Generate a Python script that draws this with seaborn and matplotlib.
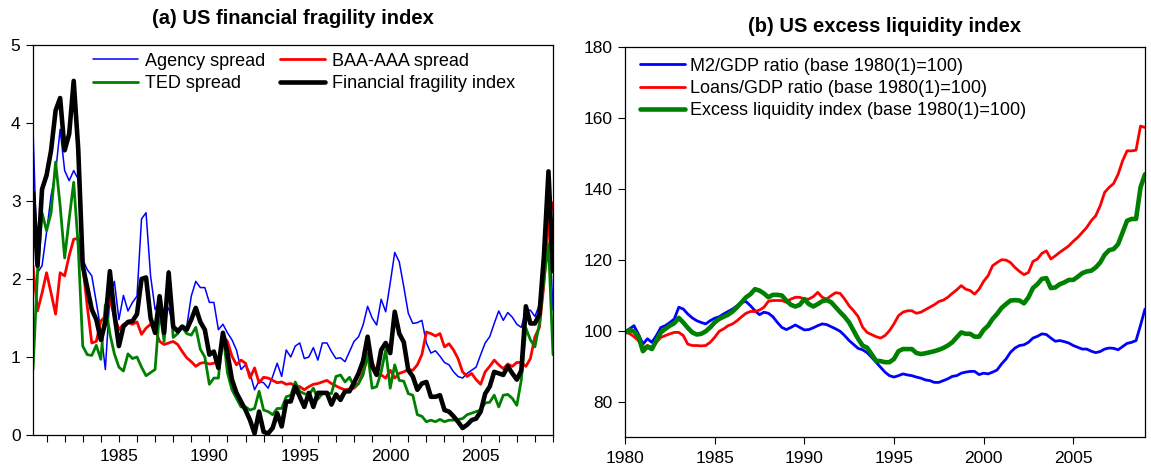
import numpy as np
import pandas as pd
import matplotlib
matplotlib.use("Agg")
import matplotlib.pyplot as plt
from matplotlib.ticker import FixedLocator
import seaborn as sns

# ---------------- data (quarterly) ----------------
# Panel (a): 1980Q2 .. 2009Q1
left_start_year, left_start_q = 1980, 2
agency_spread = [3.93, 2.08, 2.17, 2.60, 3.07, 3.37, 3.92, 3.39, 3.26, 3.39, 3.28, 2.25, 2.12, 2.04, 1.70, 1.35,
                 0.84, 1.78, 1.97, 1.48, 1.79, 1.59, 1.70, 1.78, 2.77, 2.85, 2.04, 1.61, 1.70, 1.52, 1.63, 1.39,
                 1.35, 1.37, 1.39, 1.78, 1.97, 1.89, 1.89, 1.70, 1.70, 1.35, 1.42, 1.31, 1.22, 1.09, 0.84, 0.90,
                 0.79, 0.58, 0.69, 0.67, 0.60, 0.75, 0.92, 0.75, 1.09, 1.00, 1.14, 1.18, 0.98, 1.00, 1.12, 0.96,
                 1.18, 1.18, 1.07, 0.98, 0.99, 0.94, 1.07, 1.20, 1.26, 1.41, 1.65, 1.50, 1.41, 1.74, 1.58, 1.95,
                 2.34, 2.22, 1.90, 1.56, 1.43, 1.44, 1.47, 1.18, 1.05, 1.08, 1.01, 0.93, 0.90, 0.81, 0.75, 0.73,
                 0.79, 0.83, 0.87, 1.03, 1.18, 1.26, 1.43, 1.59, 1.47, 1.57, 1.51, 1.42, 1.38, 1.60, 1.60, 1.52,
                 1.67, 2.00, 2.90, 1.60]
baa_aaa_spread = [2.17, 1.59, 1.82, 2.08, 1.82, 1.55, 2.08, 2.04, 2.30, 2.51, 2.52, 2.17, 1.65, 1.18, 1.20, 1.46,
                  1.52, 1.74, 1.52, 1.35, 1.42, 1.44, 1.42, 1.45, 1.29, 1.37, 1.42, 1.35, 1.20, 1.16, 1.18, 1.20,
                  1.16, 1.07, 0.99, 0.94, 0.88, 0.92, 0.93, 0.91, 0.92, 0.94, 1.27, 1.20, 1.01, 0.90, 0.96, 0.92,
                  0.73, 0.86, 0.67, 0.74, 0.73, 0.70, 0.67, 0.68, 0.65, 0.66, 0.63, 0.62, 0.58, 0.62, 0.65, 0.66,
                  0.68, 0.70, 0.66, 0.63, 0.60, 0.58, 0.59, 0.60, 0.66, 0.81, 0.98, 0.94, 0.79, 0.77, 0.73, 0.83,
                  0.73, 0.79, 0.81, 0.84, 0.83, 0.90, 1.03, 1.32, 1.30, 1.27, 1.30, 1.13, 1.17, 1.09, 0.98, 0.81,
                  0.75, 0.79, 0.71, 0.65, 0.81, 0.88, 0.96, 0.90, 0.85, 0.91, 0.88, 0.93, 0.93, 0.88, 0.98, 1.26,
                  1.38, 1.94, 2.70, 2.98]
ted_spread = [0.84, 2.08, 2.85, 2.62, 2.85, 3.50, 2.94, 2.27, 2.77, 3.24, 2.42, 1.14, 1.03, 1.02, 1.15, 0.97,
              1.67, 1.30, 1.04, 0.87, 0.82, 1.04, 0.98, 1.00, 0.87, 0.76, 0.80, 0.84, 1.60, 1.20, 2.10, 1.25,
              1.30, 1.38, 1.30, 1.28, 1.38, 1.10, 1.00, 0.65, 0.73, 0.73, 1.31, 0.80, 0.58, 0.47, 0.36, 0.36,
              0.32, 0.34, 0.56, 0.32, 0.30, 0.26, 0.34, 0.34, 0.49, 0.51, 0.68, 0.56, 0.53, 0.51, 0.60, 0.46,
              0.53, 0.54, 0.53, 0.75, 0.77, 0.68, 0.74, 0.62, 0.66, 0.77, 1.05, 0.60, 0.62, 0.81, 1.09, 0.60,
              0.90, 0.70, 0.69, 0.53, 0.51, 0.26, 0.24, 0.17, 0.19, 0.17, 0.20, 0.17, 0.19, 0.19, 0.20, 0.21,
              0.26, 0.28, 0.30, 0.32, 0.41, 0.42, 0.51, 0.36, 0.51, 0.52, 0.47, 0.38, 0.71, 1.37, 1.22, 1.13,
              1.43, 2.00, 2.45, 1.03]
fragility_index = [3.11, 2.17, 3.15, 3.33, 3.65, 4.16, 4.32, 3.65, 3.86, 4.54, 3.67, 2.17, 1.89, 1.61, 1.48, 1.22,
                   1.44, 2.10, 1.55, 1.14, 1.39, 1.45, 1.46, 1.55, 2.00, 2.02, 1.50, 1.31, 1.78, 1.31, 2.08, 1.39,
                   1.33, 1.39, 1.35, 1.48, 1.63, 1.45, 1.35, 1.03, 1.07, 0.86, 1.31, 1.05, 0.71, 0.54, 0.43, 0.32,
                   0.19, 0.02, 0.30, 0.04, 0.02, 0.09, 0.28, 0.11, 0.43, 0.43, 0.62, 0.49, 0.36, 0.54, 0.36, 0.54,
                   0.54, 0.54, 0.39, 0.52, 0.45, 0.56, 0.56, 0.67, 0.79, 0.95, 1.26, 0.88, 0.77, 1.09, 1.18, 1.05,
                   1.58, 1.30, 1.19, 0.83, 0.75, 0.58, 0.66, 0.68, 0.49, 0.49, 0.51, 0.32, 0.30, 0.24, 0.17, 0.09,
                   0.13, 0.19, 0.21, 0.30, 0.53, 0.62, 0.81, 0.79, 0.77, 0.88, 0.79, 0.71, 0.83, 1.65, 1.43, 1.43,
                   1.55, 2.30, 3.38, 2.10]

# Panel (b): 1980Q1 .. 2009Q1
right_start_year, right_start_q = 1980, 1
m2_gdp = [99.5, 100.5, 101.4, 99.0, 96.2, 97.7, 96.7, 98.6, 100.9, 101.4, 102.3, 103.3, 106.6, 106.1, 104.7, 103.6,
          102.8, 102.3, 101.9, 102.8, 103.5, 103.9, 104.7, 105.4, 106.1, 107.0, 108.0, 108.2, 107.0, 105.6, 104.5, 105.2,
          104.9, 103.9, 102.3, 100.9, 100.3, 100.9, 101.6, 100.9, 100.2, 100.3, 100.8, 101.4, 101.9, 101.7, 101.1, 100.5,
          99.8, 98.6, 97.2, 96.1, 95.0, 94.6, 93.8, 92.5, 91.1, 89.7, 88.3, 87.3, 86.9, 87.3, 87.8, 87.5,
          87.3, 86.9, 86.6, 86.1, 85.9, 85.4, 85.4, 85.9, 86.4, 87.1, 87.3, 88.0, 88.3, 88.5, 88.5, 87.6,
          88.0, 87.8, 88.3, 88.9, 90.6, 92.0, 93.9, 95.1, 95.8, 96.0, 96.7, 97.9, 98.4, 99.1, 98.9, 97.9,
          97.0, 97.2, 96.9, 96.5, 95.8, 95.3, 94.8, 94.8, 94.2, 93.8, 94.1, 94.8, 95.1, 95.0, 94.6, 95.5,
          96.4, 96.7, 97.2, 101.5, 106.1]
loans_gdp = [99.5, 99.2, 98.3, 97.2, 95.1, 95.8, 95.3, 96.7, 98.1, 98.6, 99.1, 99.5, 99.5, 98.6, 96.2, 95.8,
             95.8, 95.7, 95.8, 96.7, 98.1, 99.8, 100.5, 101.4, 101.9, 102.8, 103.9, 104.9, 105.4, 105.4, 105.8, 106.6,
             108.3, 108.5, 108.5, 108.5, 108.0, 108.9, 109.4, 109.4, 108.9, 108.9, 109.6, 110.8, 109.4, 108.9, 109.9, 110.7,
             110.5, 108.9, 107.0, 105.6, 104.0, 101.0, 99.5, 98.9, 98.3, 97.9, 98.6, 100.0, 101.9, 104.2, 105.2, 105.6,
             105.6, 104.9, 105.2, 105.9, 106.6, 107.3, 108.2, 108.6, 109.4, 110.5, 111.5, 112.7, 111.7, 111.3, 110.3, 111.7,
             113.9, 115.5, 118.3, 119.2, 120.0, 119.9, 119.2, 117.8, 116.7, 115.8, 116.4, 119.5, 120.2, 121.8, 122.5, 120.2,
             121.1, 122.1, 123.0, 123.9, 125.2, 126.3, 127.7, 129.1, 131.0, 132.4, 135.2, 139.0, 140.4, 141.5, 144.1, 147.9,
             150.7, 150.7, 150.9, 157.7, 157.3]
excess_liquidity = [99.5, 100.2, 99.8, 98.3, 94.2, 95.5, 94.8, 97.2, 99.5, 100.5, 101.4, 102.1, 103.6, 102.3, 100.8, 99.5,
                    98.9, 99.1, 99.8, 100.9, 102.3, 103.3, 103.9, 104.5, 105.4, 106.6, 108.0, 109.4, 110.3, 111.7, 111.3, 110.5,
                    109.4, 110.1, 110.1, 109.9, 108.5, 107.3, 106.8, 107.3, 108.9, 107.5, 106.8, 107.5, 108.3, 108.6, 108.0, 106.6,
                    105.2, 103.9, 102.3, 100.0, 97.7, 95.8, 95.2, 93.4, 91.5, 91.4, 91.1, 91.1, 92.0, 94.2, 94.8, 94.8,
                    94.8, 93.7, 93.4, 93.6, 93.9, 94.2, 94.6, 95.1, 95.8, 96.7, 98.1, 99.5, 99.1, 99.1, 98.3, 98.3,
                    100.2, 101.4, 103.3, 104.7, 106.4, 107.5, 108.5, 108.6, 108.5, 107.7, 109.4, 112.0, 113.1, 114.6, 114.8, 112.0,
                    112.2, 113.1, 113.6, 114.3, 114.3, 115.2, 116.2, 116.7, 116.9, 117.8, 119.2, 121.4, 122.7, 123.0, 124.4, 127.7,
                    131.0, 131.5, 131.5, 140.4, 144.1]

left_labels = ["Agency spread", "BAA-AAA spread", "TED spread", "Financial fragility index"]
right_labels = ["M2/GDP ratio (base 1980(1)=100)", "Loans/GDP ratio (base 1980(1)=100)",
                "Excess liquidity index (base 1980(1)=100)"]
left_title = "(a) US financial fragility index"
right_title = "(b) US excess liquidity index"


def quarter_axis(start_year, start_q, n):
    return start_year + (start_q - 1) / 4 + np.arange(n) / 4


t_left = quarter_axis(left_start_year, left_start_q, len(fragility_index))
t_right = quarter_axis(right_start_year, right_start_q, len(m2_gdp))

df_left = pd.DataFrame({"t": t_left, left_labels[0]: agency_spread, left_labels[1]: baa_aaa_spread,
                        left_labels[2]: ted_spread, left_labels[3]: fragility_index})
df_right = pd.DataFrame({"t": t_right, right_labels[0]: m2_gdp, right_labels[1]: loans_gdp,
                         right_labels[2]: excess_liquidity})

# ---------------- style ----------------
sns.set_style("ticks")
plt.rcParams['font.family'] = ['Liberation Sans', 'DejaVu Sans']
plt.rcParams['text.color'] = 'black'
plt.rcParams['axes.labelcolor'] = 'black'
plt.rcParams['axes.linewidth'] = 0.9
plt.rcParams['xtick.major.width'] = 0.8
plt.rcParams['ytick.major.width'] = 0.8
plt.rcParams['xtick.minor.width'] = 0.8

W, H = 1151, 470
fig = plt.figure(figsize=(W / 100, H / 100), dpi=100)
fig.patch.set_facecolor("white")


def rect(l, t, r, b):
    return [l / W, 1 - b / H, (r - l) / W, (b - t) / H]


ax1 = fig.add_axes(rect(33, 45, 553, 435))
ax2 = fig.add_axes(rect(625, 47, 1145, 437))

# ---------------- panel (a) ----------------
styles_left = [("#0000ff", 1.1), ("#ff0000", 2.0), ("#008000", 2.0), ("#000000", 3.3)]
for lab, (col, lw) in zip(left_labels, styles_left):
    sns.lineplot(data=df_left, x="t", y=lab, ax=ax1, color=col, linewidth=lw, label=lab)

ax1.set_xlim(t_left[0], t_left[-1])
ax1.set_ylim(0, 5)
ax1.set_yticks([0, 1, 2, 3, 4, 5])
ax1.set_xticks([1985, 1990, 1995, 2000, 2005])
ax1.xaxis.set_minor_locator(FixedLocator(np.arange(1981, 2010)))
ax1.set_xlabel("")
ax1.set_ylabel("")

h, l = ax1.get_legend_handles_labels()
order = [0, 2, 1, 3]
ax1.legend([h[i] for i in order], [l[i] for i in order], ncol=2, frameon=False,
           loc="upper left", bbox_to_anchor=(0.108, 0.990), borderaxespad=0, borderpad=0.2,
           fontsize=13, handlelength=2.5, handletextpad=0.4, labelspacing=0.3, columnspacing=0.8,
           labelcolor="black")

# ---------------- panel (b) ----------------
styles_right = [("#0000ff", 2.0), ("#ff0000", 2.0), ("#008000", 3.3)]
for lab, (col, lw) in zip(right_labels, styles_right):
    sns.lineplot(data=df_right, x="t", y=lab, ax=ax2, color=col, linewidth=lw, label=lab)

ax2.set_xlim(t_right[0], t_right[-1])
ax2.set_ylim(70, 180)
ax2.set_yticks([80, 100, 120, 140, 160, 180])
ax2.set_xticks([1980, 1985, 1990, 1995, 2000, 2005])
ax2.set_xlabel("")
ax2.set_ylabel("")
ax2.legend(frameon=False, loc="upper left", bbox_to_anchor=(0.022, 0.982), borderaxespad=0, borderpad=0.2,
           fontsize=13, handlelength=2.5, handletextpad=0.25, labelspacing=0.3, labelcolor="black")

for ax in (ax1, ax2):
    for s in ax.spines.values():
        s.set_visible(True)
        s.set_color("black")
    ax.tick_params(axis="both", which="both", direction="out", length=5, labelsize=12.5, colors="black")
    ax.tick_params(axis="x", which="both", pad=5)
    ax.tick_params(axis="y", pad=4)
    ax.tick_params(top=False, right=False)

fig.text(293 / W, 1 - 18 / H, left_title, ha="center", va="center", fontsize=14.5, fontweight="bold",
         color="black")
fig.text(885 / W, 1 - 27 / H, right_title, ha="center", va="center", fontsize=14.5, fontweight="bold",
         color="black")

fig.savefig("out.png", dpi=100, facecolor="white")
